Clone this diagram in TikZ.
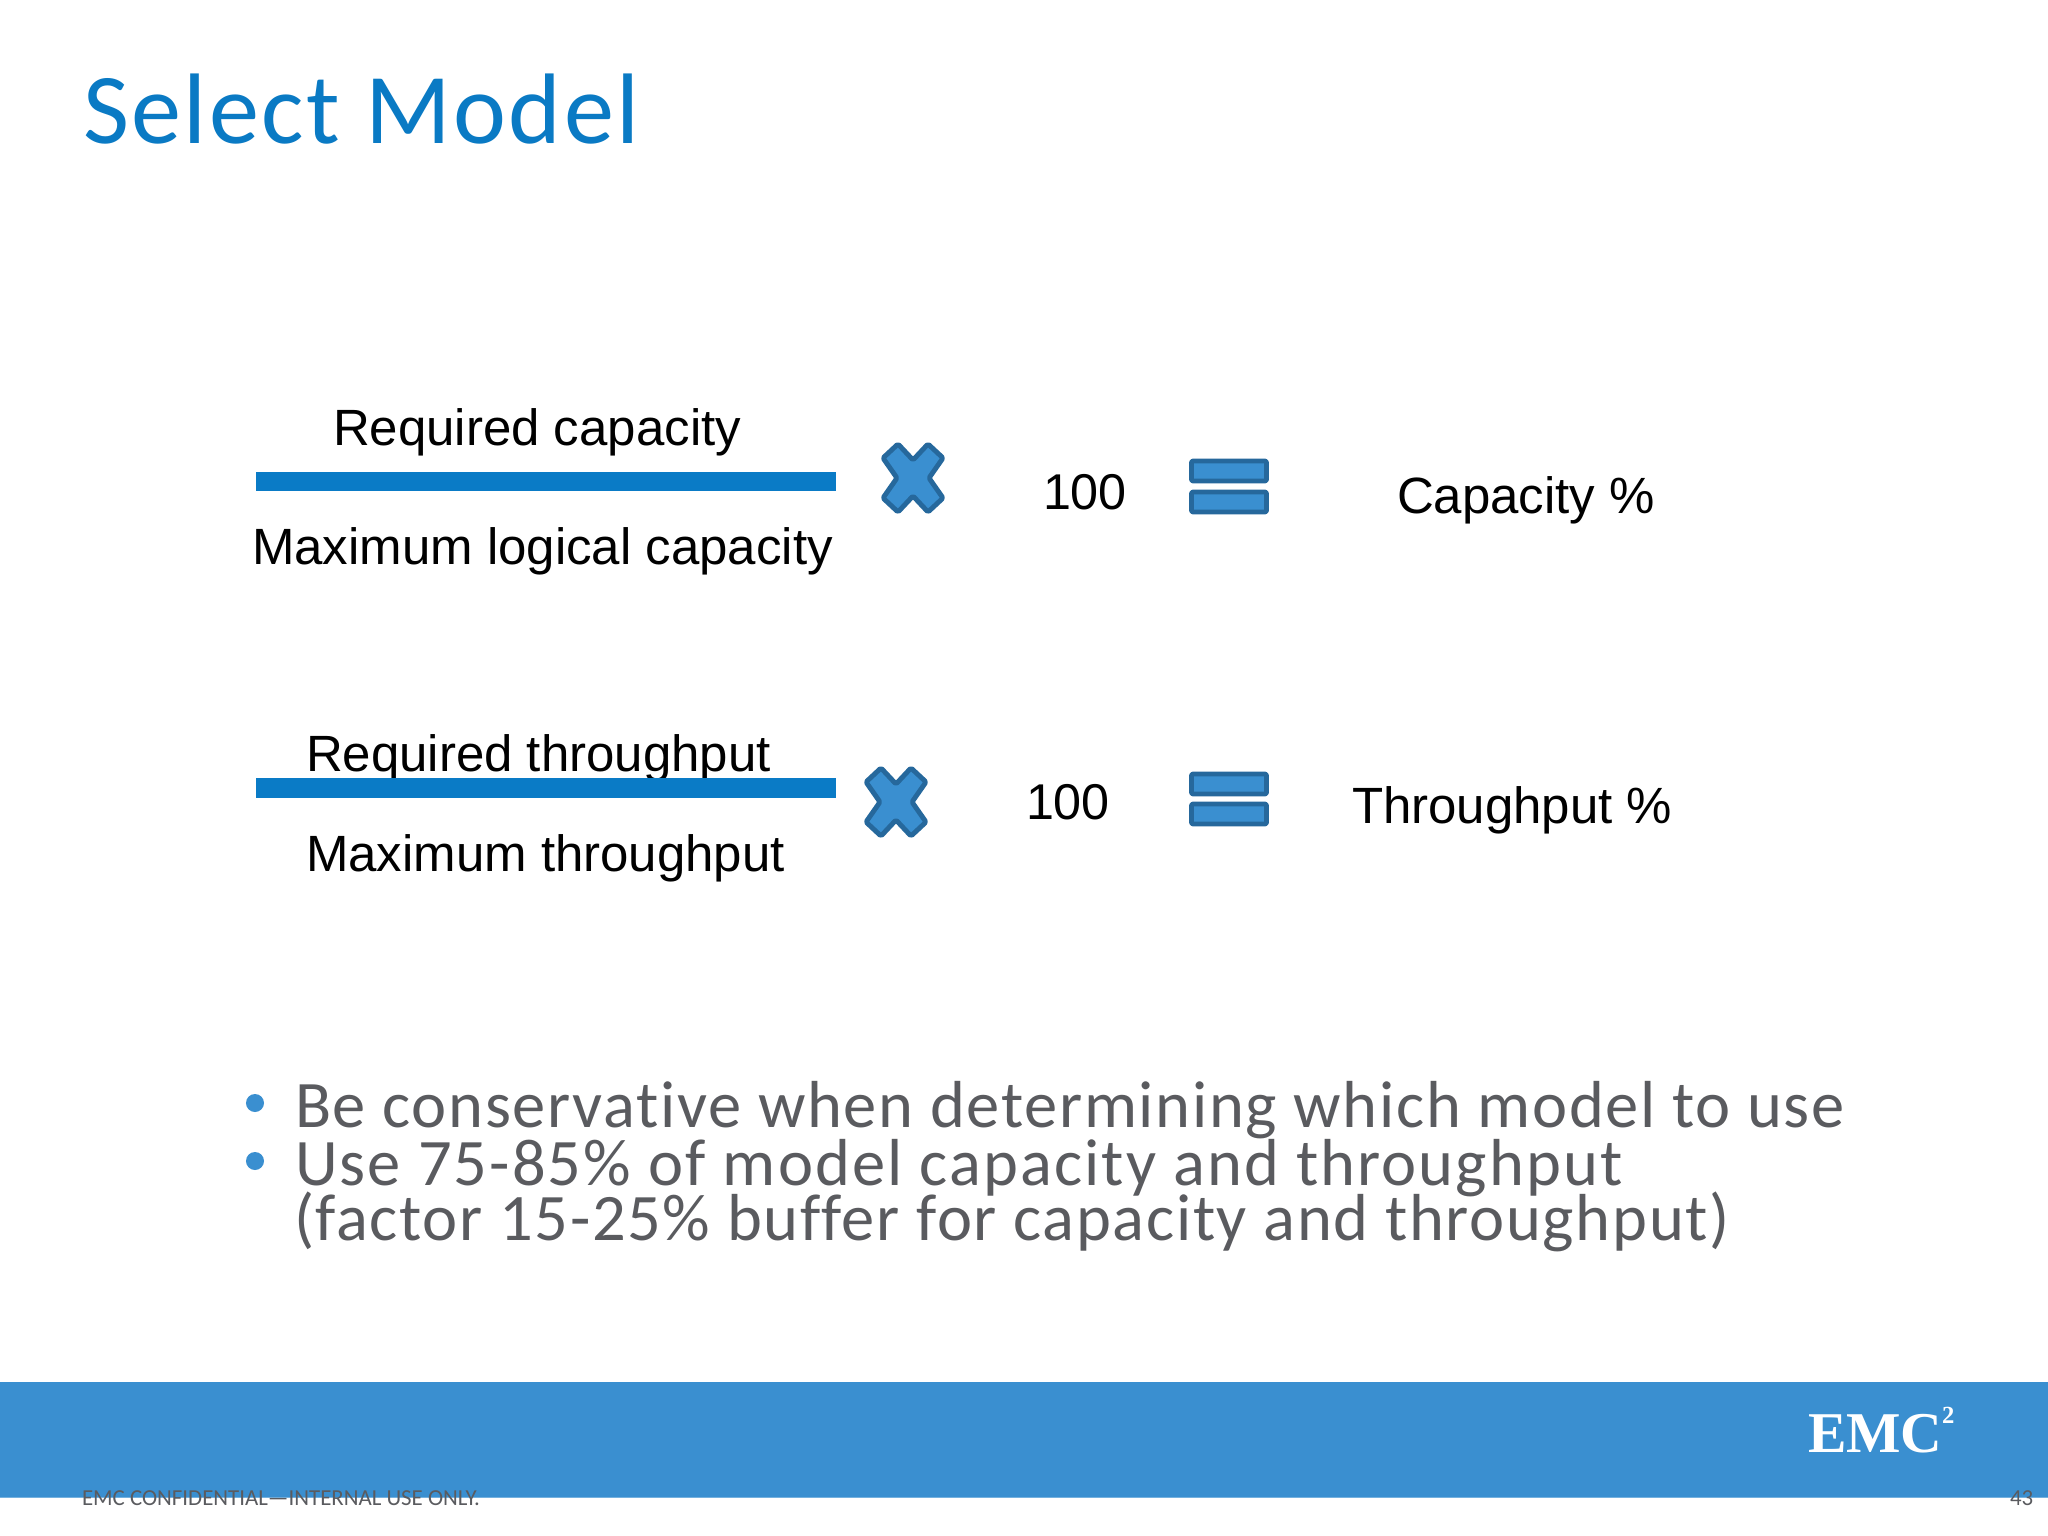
\documentclass[tikz,border=0pt]{standalone}
\usepackage{fontspec}
\setmainfont{Liberation Sans}
\newfontfamily\carl{Carlito}
\newfontfamily\carlsp[LetterSpace=2.5,Ligatures=NoCommon]{Carlito}
\newfontfamily\carlspw[LetterSpace=3.15,Ligatures=NoCommon]{Carlito}
\newfontfamily\logofont{Liberation Serif}
\definecolor{titleblue}{HTML}{0A7AC4}
\definecolor{barblue}{HTML}{0A7BC6}
\definecolor{bandblue}{HTML}{3A8FD0}
\definecolor{edgeblue}{HTML}{26689C}
\definecolor{bodygrey}{HTML}{5A5B5F}
\tikzset{
  txt/.style={inner sep=0pt,outer sep=0pt,anchor=base west},
  formula/.style={txt,font=\fontsize{14.5}{14.5}\selectfont,text=black},
  bodytext/.style={txt,font=\carlsp\fontsize{18.9}{18.9}\selectfont,text=bodygrey},
  foot/.style={txt,font=\carl\fontsize{6.5}{6.5}\selectfont,text=bodygrey},
  bar/.style={fill=barblue,draw=none},
  opsign/.style={fill=bandblue,draw=edgeblue,line width=1.4pt,rounded corners=0.4pt,line join=round},
  dot/.style={circle,fill=bandblue,draw=none,inner sep=0pt,minimum size=0.18cm},
}
\begin{document}
\begin{tikzpicture}[x=0.01cm,y=-0.01cm]
\useasboundingbox (0,0) rectangle (2048,1536);
\fill[white] (0,0) rectangle (2048,1536);
% band
\fill[bandblue] (0,1382) rectangle (2048,1497);
\draw[bandblue!70!white,line width=0.4pt] (0,1497.5) -- (2048,1497.5);
% title
\node[txt,font=\carlsp\fontsize{28.5}{28.5}\selectfont,text=titleblue] (title) at (83,143) {Select Model};
% row 1
\node[formula] (reqcap) at (333,445) {Required capacity};
\fill[bar] (256,472) rectangle (836,491);
\node[formula] (maxcap) at (252,564) {Maximum logical capacity};
\node[formula,font=\fontsize{14.3}{14.3}\selectfont] (hundreda) at (1043,509) {100};
\node[formula] (capp) at (1397,513) {Capacity \%};
% row 2
\node[formula] (reqthr) at (306,771) {Required throughput};
\fill[bar] (256,778) rectangle (836,798);
\node[formula] (maxthr) at (306,871) {Maximum throughput};
\node[formula,font=\fontsize{14.3}{14.3}\selectfont] (hundredb) at (1026,819) {100};
\node[formula] (thrp) at (1352,823) {Throughput \%};
% multiply signs
\foreach \cx/\cy in {913/478,896/802}{
  \draw[opsign] (\cx-15,\cy-34) -- (\cx,\cy-18) -- (\cx+15,\cy-34) -- (\cx+30,\cy-20) -- (\cx+16,\cy) -- (\cx+30,\cy+20) -- (\cx+15,\cy+34) -- (\cx,\cy+18) -- (\cx-15,\cy+34) -- (\cx-30,\cy+20) -- (\cx-16,\cy) -- (\cx-30,\cy-20) -- cycle;
}
% equals signs
\foreach \y in {461,492,774,804}{
  \draw[opsign] (1191.5,\y) rectangle (1266.5,\y+20);
}
% bullets
\node[dot] (b1) at (255,1103) {};
\node[dot] (b2) at (255,1161) {};
\node[bodytext] (l1) at (295,1127) {Be conservative when determining which model to use};
\node[bodytext,font=\carlspw\fontsize{18.9}{18.9}\selectfont] (l2) at (295,1185) {Use 75-85\% of model capacity and throughput};
\node[bodytext] (l3) at (294,1240) {(factor 15-25\% buffer for capacity and throughput)};
% footer
\node[foot] (conf) at (82,1505) {EMC CONFIDENTIAL—INTERNAL USE ONLY.};
\node[foot] (page) at (2010,1505) {43};
% logo
\node[txt,font=\logofont\bfseries\fontsize{16.4}{16.4}\selectfont,text=white] (emc) at (1808,1452) {EMC};
\node[txt,font=\logofont\bfseries\fontsize{7}{7}\selectfont,text=white] (sq) at (1942,1423) {2};
\end{tikzpicture}
\end{document}
